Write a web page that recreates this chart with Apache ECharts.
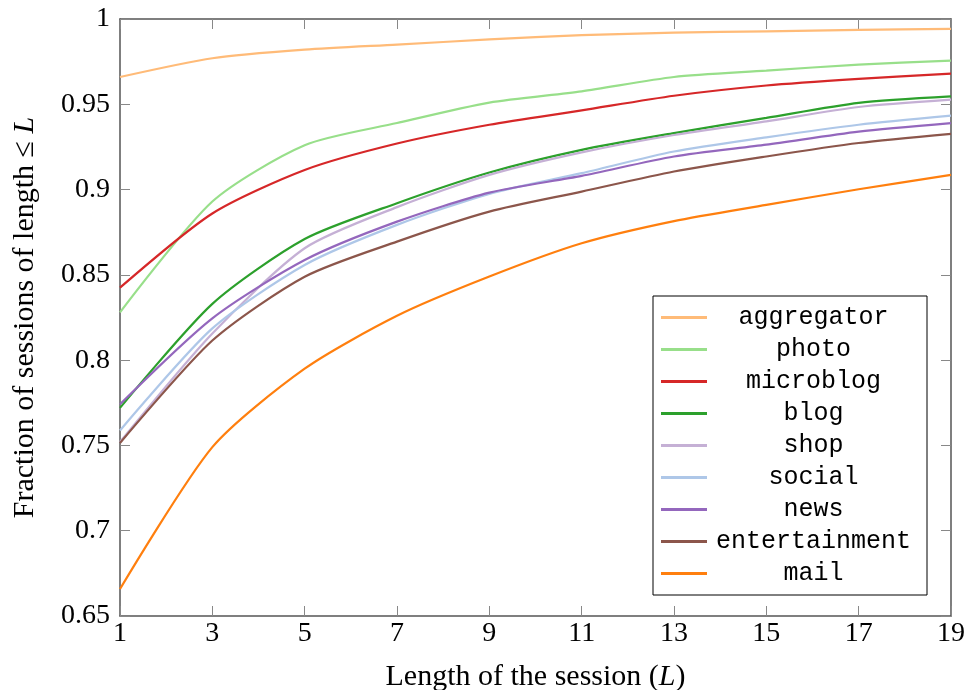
<!DOCTYPE html>
<html>
<head>
<meta charset="utf-8">
<script src="https://cdn.jsdelivr.net/npm/echarts@6/dist/echarts.min.js"></script>
<style>
  html, body { margin: 0; padding: 0; background: #fff; }
  #chart { width: 968px; height: 690px; }
</style>
</head>
<body>
<div id="chart"></div>
<script>
// session length L (x axis)
var lengths = [1, 3, 5, 7, 9, 11, 13, 15, 17, 19];

// fraction of sessions of length <= L, one list per category
var aggregator    = [0.966, 0.977, 0.982, 0.985, 0.988, 0.9905, 0.992, 0.9928, 0.9936, 0.9942];
var photo         = [0.828, 0.893, 0.926, 0.939, 0.951, 0.9576, 0.966, 0.9697, 0.9733, 0.9756];
var microblog     = [0.8425, 0.886, 0.9115, 0.927, 0.938, 0.9464, 0.955, 0.961, 0.9649, 0.968];
var blog          = [0.772, 0.833, 0.871, 0.892, 0.910, 0.9233, 0.9331, 0.942, 0.9508, 0.9546];
var shop          = [0.752, 0.8156, 0.8656, 0.8897, 0.9086, 0.9218, 0.932, 0.940, 0.9484, 0.9527];
var social        = [0.7588, 0.8186, 0.8558, 0.8793, 0.8975, 0.9096, 0.9223, 0.9306, 0.938, 0.9433];
var news          = [0.7741, 0.8245, 0.8587, 0.8812, 0.8982, 0.908, 0.9194, 0.9263, 0.934, 0.939];
var entertainment = [0.7514, 0.8115, 0.8489, 0.8695, 0.8871, 0.8988, 0.9106, 0.9194, 0.9273, 0.9327];
var mail          = [0.6658, 0.749, 0.795, 0.826, 0.849, 0.8685, 0.8815, 0.891, 0.9002, 0.9086];

var names  = ['aggregator', 'photo', 'microblog', 'blog', 'shop', 'social', 'news', 'entertainment', 'mail'];
var values = [aggregator, photo, microblog, blog, shop, social, news, entertainment, mail];
var colors = ['#ffbb78', '#98df8a', '#d62728', '#2ca02c', '#c5b0d5', '#aec7e8', '#9467bd', '#8c564b', '#ff7f0e'];

var serif = 'Liberation Serif';
var mono = 'Liberation Mono';

function pairs(arr) {
  var res = [];
  for (var i = 0; i < lengths.length; i++) {
    res.push([lengths[i], arr[i]]);
  }
  return res;
}

var series = names.map(function (n, i) {
  return {
    name: n,
    type: 'line',
    xAxisIndex: 0,
    yAxisIndex: 0,
    data: pairs(values[i]),
    showSymbol: false,
    smooth: 0.25,
    color: colors[i],
    lineStyle: { width: 2.2, color: colors[i] },
    emphasis: { disabled: true }
  };
});

var tickStyle = { show: true, inside: true, length: 10, lineStyle: { color: '#888', width: 1 } };
var lineStyle = { show: true, onZero: false, lineStyle: { color: '#555', width: 1.5 } };
var nameRich = {
  a: { fontFamily: serif, fontSize: 30, color: '#000' },
  i: { fontFamily: serif, fontSize: 30, fontStyle: 'italic', color: '#000' }
};

var option = {
  animation: false,
  backgroundColor: '#fff',
  grid: { left: 120, right: 17, top: 19, bottom: 74, containLabel: false, outerBoundsMode: 'none' },
  legend: {
    orient: 'vertical',
    left: 653,
    top: 296,
    data: names,
    icon: 'rect',
    itemWidth: 46,
    itemHeight: 3,
    itemGap: 7,
    padding: [9, 12, 9, 8],
    backgroundColor: '#fff',
    borderColor: '#000',
    borderWidth: 1,
    borderRadius: 0,
    formatter: function (name) { return '{t|' + name + '}'; },
    textStyle: {
      rich: {
        t: { fontFamily: mono, fontSize: 25, color: '#000', width: 203, align: 'center', lineHeight: 22 }
      }
    }
  },
  xAxis: [{
    type: 'value',
    position: 'bottom',
    min: 1, max: 19, interval: 2,
    name: '{a|Length of the session (}{i|L}{a|)}',
    nameLocation: 'middle',
    nameGap: 46,
    nameTextStyle: { rich: nameRich },
    axisLine: lineStyle,
    axisTick: tickStyle,
    splitLine: { show: false },
    axisLabel: { fontFamily: serif, fontSize: 28, color: '#000', margin: 4, showMinLabel: true, showMaxLabel: true }
  }, {
    type: 'value',
    position: 'top',
    min: 1, max: 19, interval: 2,
    axisLine: lineStyle,
    axisTick: tickStyle,
    splitLine: { show: false },
    axisLabel: { show: false }
  }],
  yAxis: [{
    type: 'value',
    position: 'left',
    min: 0.65, max: 1, interval: 0.05,
    name: '{a|Fraction of sessions of length ≤ }{i|L}',
    nameLocation: 'middle',
    nameGap: 80,
    nameTextStyle: { rich: nameRich },
    axisLine: lineStyle,
    axisTick: tickStyle,
    splitLine: { show: false },
    axisLabel: {
      fontFamily: serif, fontSize: 28, color: '#000', margin: 10,
      formatter: function (v) { return String(+v.toFixed(2)); }
    }
  }, {
    type: 'value',
    position: 'right',
    min: 0.65, max: 1, interval: 0.05,
    axisLine: lineStyle,
    axisTick: tickStyle,
    splitLine: { show: false },
    axisLabel: { show: false }
  }],
  series: series
};

var myChart = echarts.init(document.getElementById('chart'));
myChart.setOption(option);
</script>
</body>
</html>
